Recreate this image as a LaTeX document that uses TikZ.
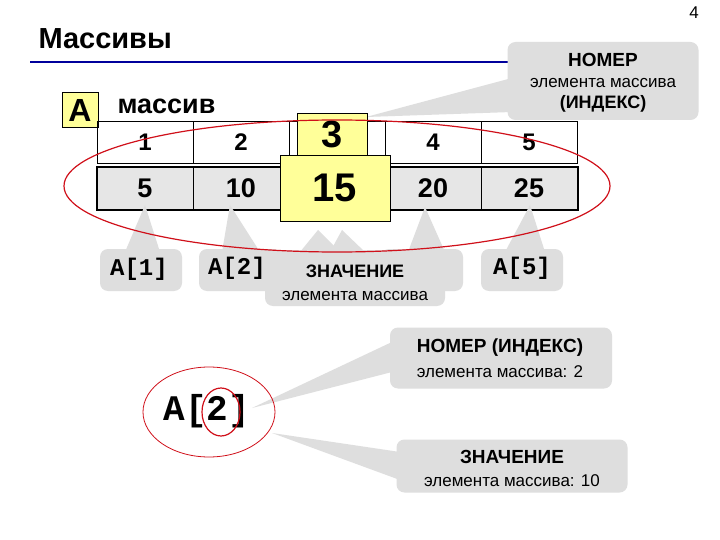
\documentclass[tikz,border=0pt]{standalone}
\usepackage{fontspec}
\setmainfont{Liberation Sans}
\newfontfamily\cour{Liberation Mono}
\begin{document}
\begin{tikzpicture}[x=1pt,y=-1pt,
  cbox/.style={fill=callgray,rounded corners=8pt},
  tail/.style={fill=callgray},
  idx/.style={draw=black,line width=0.5pt,minimum width=96pt,minimum height=42pt,inner sep=0pt,font=\bfseries\fontsize{24}{24}\selectfont},
  val/.style={draw=black,line width=0.5pt,fill=valgray,minimum width=96pt,minimum height=43pt,inner sep=0pt,font=\bfseries\fontsize{27}{27}\selectfont},
  yel/.style={draw=black,line width=0.5pt,fill=yelbg,inner sep=0pt,font=\bfseries},
  mono/.style={font=\cour\bfseries\fontsize{24}{24}\selectfont},
]
\definecolor{callgray}{HTML}{DEDEDE}
\definecolor{valgray}{HTML}{E6E6E6}
\definecolor{yelbg}{HTML}{FFFF99}
\definecolor{ered}{HTML}{D0101A}
\definecolor{tblue}{HTML}{00009C}
\useasboundingbox (0,0) rectangle (720,540);
\fill[white] (0,0) rectangle (720,540);
\node[font=\fontsize{17}{17}\selectfont] (pg) at (694,13) {4};
\node[anchor=west,font=\bfseries\fontsize{29}{29}\selectfont] (title) at (35,39) {Массивы};
\draw[tblue,line width=2pt] (30,62) -- (510,62);
% top right callout
\fill[tail] (366,117) -- (512,78) -- (512,112) -- cycle;
\node[cbox,minimum width=191pt,minimum height=78pt] (cnum) at (603,81) {};
\node[font=\bfseries\fontsize{19}{19}\selectfont] (t1) at (603,60) {НОМЕР};
\node[font=\fontsize{17}{17}\selectfont] (t2) at (603,83) {элемента массива};
\node[font=\bfseries\fontsize{18}{18}\selectfont] (t3) at (603,104) {(ИНДЕКС)};
% A box
\node[yel,minimum width=36pt,minimum height=35pt,font=\bfseries\fontsize{32}{32}\selectfont] (A) at (80,110) {A};
\node[anchor=west,font=\bfseries\fontsize{27}{27}\selectfont] (mas) at (114,106) {массив};
% table
\foreach \i/\v [count=\k] in {1/5,2/10,3/15,4/20,5/25}{
  \node[idx] (i\k) at (145+96*\k-96,142.5) {\i};
  \node[val,line width=0.5pt] (v\k) at (145+96*\k-96,188.5) {\v};
}
\draw[line width=2pt] (97,167) rectangle (578,210);
% bottom callout tails
\fill[tail] (145,205) -- (125,252) -- (160,252) -- cycle;
\fill[tail] (230,205) -- (222,252) -- (260,252) -- cycle;
\fill[tail] (425,207) -- (408,252) -- (445,252) -- cycle;
\fill[tail] (530,205) -- (505,252) -- (545,252) -- cycle;
\fill[tail] (318,230) -- (300,252) -- (340,252) -- cycle;
\fill[tail] (342,230) -- (330,252) -- (365,252) -- cycle;
\node[cbox,minimum width=82pt,minimum height=42pt] (c1) at (141,270) {};
\node[mono] (a1) at (139,269) {A[1]};
\node[cbox,minimum width=82pt,minimum height=42pt] (c2) at (240,270) {};
\node[mono] (a2) at (237,268) {A[2]};
\node[cbox,minimum width=82pt,minimum height=42pt] (c4) at (422,270) {};
\node[mono] (a4) at (415,268) {A[4]};
\node[cbox,minimum width=82pt,minimum height=42pt] (c5) at (522,270) {};
\node[mono] (a5) at (522,268) {A[5]};
\node[cbox,minimum width=180pt,minimum height=56pt] (cz) at (355,278) {};
\node[font=\bfseries\fontsize{18}{18}\selectfont] (z1) at (355,271) {ЗНАЧЕНИЕ};
\node[font=\fontsize{17}{17}\selectfont] (z2) at (355,296) {элемента массива};
% yellow boxes
\node[yel,minimum width=70pt,minimum height=43pt,font=\bfseries\fontsize{38}{38}\selectfont] (y3) at (332,134.5) {3};
\node[yel,minimum width=110pt,minimum height=66pt,font=\bfseries\fontsize{40}{40}\selectfont] (y15) at (335,188) {15};
% ellipse
\draw[ered,line width=1.2pt] (337,186) ellipse [x radius=273,y radius=66];
% bottom part
\fill[tail] (252,408) -- (392,342) -- (392,372) -- cycle;
\fill[tail] (272,433) -- (400,452) -- (400,480) -- cycle;
\node[cbox,minimum width=222pt,minimum height=61pt] (cn2) at (501,358) {};
\node[font=\bfseries\fontsize{19}{19}\selectfont] (n1) at (500,348) {НОМЕР (ИНДЕКС)};
\node[font=\fontsize{17}{17}\selectfont] (n2) at (500,372) {элемента массива: 2};
\node[cbox,minimum width=231pt,minimum height=53pt] (cz2) at (512,466) {};
\node[font=\bfseries\fontsize{19}{19}\selectfont] (z3) at (512,457) {ЗНАЧЕНИЕ};
\node[font=\fontsize{17}{17}\selectfont] (z4) at (512,481) {элемента массива: 10};
\node[font=\cour\bfseries\fontsize{36}{36}\selectfont] (a22) at (207,411) {A[2]};
\draw[ered,line width=0.8pt] (209,412) ellipse [x radius=66,y radius=45];
\draw[ered,line width=1.2pt] (221,412) ellipse [x radius=19,y radius=24];
\end{tikzpicture}
\end{document}
